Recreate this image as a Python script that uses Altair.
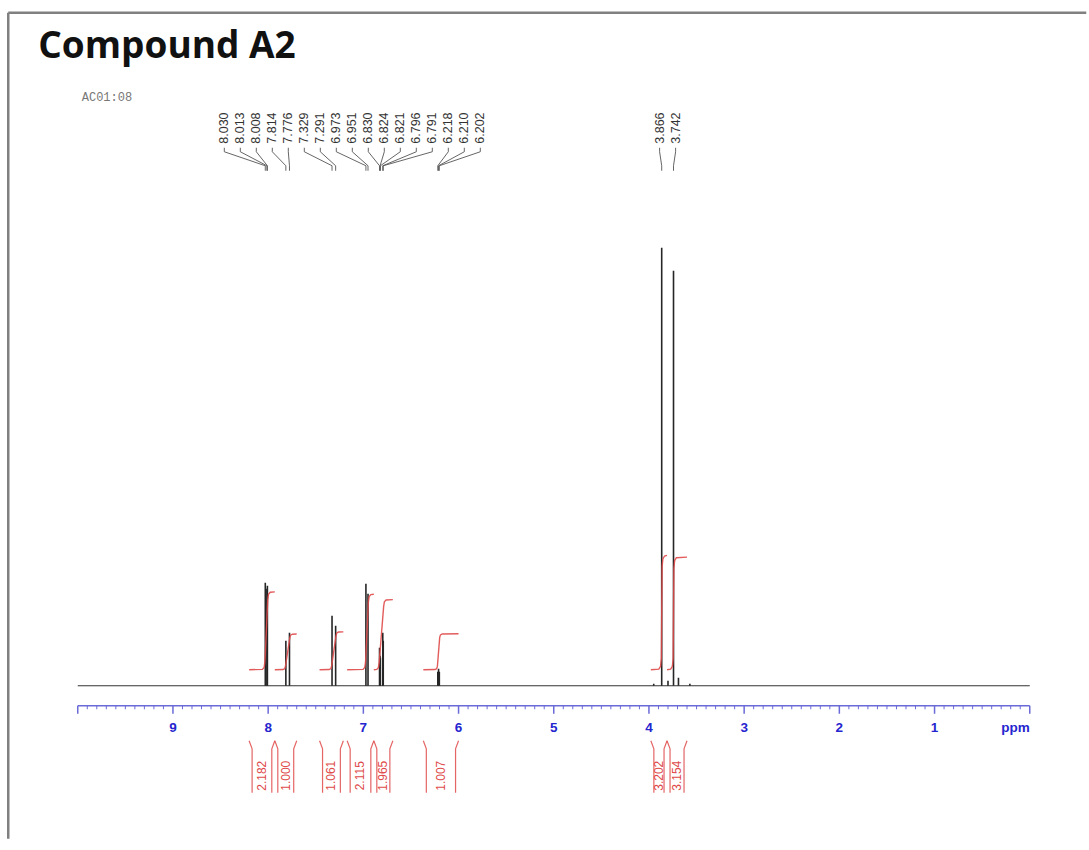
import altair as alt
import pandas as pd
import numpy as np

# ---------------- data ----------------
peak_ppm = [8.030, 8.013, 8.008, 7.814, 7.776, 7.329, 7.291, 6.973, 6.951,
            6.830, 6.824, 6.821, 6.796, 6.791, 6.218, 6.210, 6.202, 3.866, 3.742]
peak_height = [103, 97, 100, 45, 53, 70, 60, 102, 92,
               38, 30, 28, 53, 45, 14, 17, 14, 438, 415]
minor_ppm = [3.95, 3.80, 3.69, 3.57]
minor_height = [2, 5, 8, 2]

integral_value = [2.182, 1.000, 1.061, 2.115, 1.965, 1.007, 3.202, 3.154]
integral_start = [8.20, 7.93, 7.46, 7.17, 6.89, 6.37, 3.98, 3.81]
integral_end = [7.93, 7.70, 7.21, 6.89, 6.69, 6.00, 3.81, 3.60]

major_ticks = [10, 9, 8, 7, 6, 5, 4, 3, 2, 1, 0]
label_ticks = [9, 8, 7, 6, 5, 4, 3, 2, 1]
tick_labels = ["9", "8", "7", "6", "5", "4", "3", "2", "1"]

title_text = "Compound A2"
sample_text = "AC01:08"
unit_text = "ppm"

# ---------------- layout constants ----------------
W = 952
HA, HB, HC = 100, 530, 140
PX_PER_PPM = W / 10.0
LABEL_SPACING = 16 / PX_PER_PPM
INSET = 3 / PX_PER_PPM
INT_BASE = 16
INT_SCALE = 35.7

RED = "#e04a4a"
BLUE_LINE = "#6a6ad8"
BLUE_TEXT = "#2525cf"
GREY = "#808080"

xs = alt.Scale(domain=[10, 0], nice=False, zero=False)
ysA = alt.Scale(domain=[HA, 0], nice=False, zero=False)
ysB = alt.Scale(domain=[-20, HB - 20], nice=False, zero=False)
ysC = alt.Scale(domain=[HC, 0], nice=False, zero=False)

# ---------------- peak label spreading ----------------
groups = [[0]]
for i in range(1, len(peak_ppm)):
    if peak_ppm[i - 1] - peak_ppm[i] > 1.0:
        groups.append([i])
    else:
        groups[-1].append(i)
label_ppm = [0.0] * len(peak_ppm)
for g in groups:
    center = (peak_ppm[g[0]] + peak_ppm[g[-1]]) / 2
    n = len(g)
    for k, i in enumerate(g):
        label_ppm[i] = center + ((n - 1) / 2 - k) * LABEL_SPACING

lab_df = pd.DataFrame({"lx": label_ppm, "text": [f"{p:.3f}" for p in peak_ppm]})
lead_rows = []
for i, (lx, px) in enumerate(zip(label_ppm, peak_ppm)):
    for j, (xx, yy) in enumerate([(lx, 72), (lx, 76), (px, 90), (px, 95)]):
        lead_rows.append({"id": i, "idx": j, "x": xx, "y": yy})
lead_df = pd.DataFrame(lead_rows)

one = pd.DataFrame({"a": [0]})

# ---------------- panel A: title, labels ----------------
title = alt.Chart(pd.DataFrame({"t": [title_text]})).mark_text(
    align="left", baseline="alphabetic", font="Open Sans", fontSize=37,
    fontWeight="bold", color="#111111"
).encode(x=alt.value(-39.5), y=alt.value(-18), text="t:N")

sample = alt.Chart(pd.DataFrame({"t": [sample_text]})).mark_text(
    align="left", baseline="alphabetic", font="Liberation Mono", fontSize=12,
    color="#777777"
).encode(x=alt.value(4), y=alt.value(25), text="t:N")

frame_top = alt.Chart(one).mark_rule(color=GREY, strokeWidth=2.5).encode(
    x=alt.value(-69.5), x2=alt.value(1008.5), y=alt.value(-63))
frame_left = alt.Chart(one).mark_rule(color=GREY, strokeWidth=2.5).encode(
    x=alt.value(-69.5), y=alt.value(-63), y2=alt.value(763))

peak_labels = alt.Chart(lab_df).mark_text(
    angle=270, align="left", baseline="middle", font="Liberation Sans",
    fontSize=12.5, color="#333333"
).encode(x=alt.X("lx:Q", scale=xs, axis=None), y=alt.value(68), text="text:N")

leaders = alt.Chart(lead_df).mark_line(color="#555555", strokeWidth=0.9).encode(
    x=alt.X("x:Q", scale=xs, axis=None),
    y=alt.Y("y:Q", scale=ysA, axis=None),
    detail="id:N", order="idx:Q")

panelA = alt.layer(frame_top, frame_left, title, sample, leaders, peak_labels).properties(
    width=W, height=HA)

# ---------------- panel B: spectrum and integrals ----------------
spec_df = pd.DataFrame({
    "ppm": peak_ppm + minor_ppm,
    "h": peak_height + minor_height,
    "base": [0] * (len(peak_ppm) + len(minor_ppm)),
})
base_df = pd.DataFrame({"x": [10.0], "x2": [0.0], "y": [0.0]})

baseline = alt.Chart(base_df).mark_rule(color="#333333", strokeWidth=1.2).encode(
    x=alt.X("x:Q", scale=xs, axis=None), x2="x2:Q",
    y=alt.Y("y:Q", scale=ysB, axis=None))

peaks = alt.Chart(spec_df).mark_rule(color="#262626", strokeWidth=1.6).encode(
    x=alt.X("ppm:Q", scale=xs, axis=None),
    y=alt.Y("base:Q", scale=ysB, axis=None), y2="h:Q")

int_rows = []
for r, (v, s, e) in enumerate(zip(integral_value, integral_start, integral_end)):
    inside = [p for p in peak_ppm if e <= p <= s]
    hi, lo = max(inside), min(inside)
    pts = [(s, 0.0), (hi + 0.03, 0.005), (hi + 0.012, 0.03), (hi + 0.004, 0.10),
           (lo - 0.004, 0.90), (lo - 0.012, 0.97), (lo - 0.03, 0.995), (e, 1.0)]
    for j, (xx, f) in enumerate(pts):
        int_rows.append({"region": r, "idx": j, "x": xx, "y": INT_BASE + f * v * INT_SCALE})
int_df = pd.DataFrame(int_rows)

integrals = alt.Chart(int_df).mark_line(color=RED, strokeWidth=1.4, opacity=0.9).encode(
    x=alt.X("x:Q", scale=xs, axis=None),
    y=alt.Y("y:Q", scale=ysB, axis=None),
    detail="region:N", order="idx:Q")

panelB = alt.layer(baseline, peaks, integrals).properties(width=W, height=HB)

# ---------------- panel C: axis and integral labels ----------------
axis_df = pd.DataFrame({"x": [10.0], "x2": [0.0]})
axis_line = alt.Chart(axis_df).mark_rule(color=BLUE_LINE, strokeWidth=1.5).encode(
    x=alt.X("x:Q", scale=xs, axis=None), x2="x2:Q", y=alt.value(0))

major_df = pd.DataFrame({"x": major_ticks})
minor_list = [round(t / 10, 1) for t in range(1, 100) if t % 10 != 0]
minor_df = pd.DataFrame({"x": minor_list})

major = alt.Chart(major_df).mark_rule(color=BLUE_LINE, strokeWidth=1.5).encode(
    x=alt.X("x:Q", scale=xs, axis=None), y=alt.value(0), y2=alt.value(8))
minor = alt.Chart(minor_df).mark_rule(color=BLUE_LINE, strokeWidth=1.0).encode(
    x=alt.X("x:Q", scale=xs, axis=None), y=alt.value(0), y2=alt.value(3.5))

tl_df = pd.DataFrame({"x": label_ticks, "t": tick_labels})
tick_text = alt.Chart(tl_df).mark_text(
    font="Liberation Sans", fontSize=13.5, fontWeight="bold", color=BLUE_TEXT,
    baseline="middle", align="center"
).encode(x=alt.X("x:Q", scale=xs, axis=None), y=alt.value(22), text="t:N")

unit = alt.Chart(pd.DataFrame({"x": [0.0], "t": [unit_text]})).mark_text(
    font="Liberation Sans", fontSize=13.5, fontWeight="bold", color=BLUE_TEXT,
    baseline="middle", align="right"
).encode(x=alt.X("x:Q", scale=xs, axis=None), y=alt.value(22), text="t:N")

br_rows = []
eid = 0
for s, e in zip(integral_start, integral_end):
    for edge, d in ((s, -INSET), (e, INSET)):
        for j, (xx, yy) in enumerate([(edge, 35), (edge + d, 43), (edge + d, 87)]):
            br_rows.append({"edge": eid, "idx": j, "x": xx, "y": yy})
        eid += 1
br_df = pd.DataFrame(br_rows)

brackets = alt.Chart(br_df).mark_line(color=RED, strokeWidth=1.2, opacity=0.85).encode(
    x=alt.X("x:Q", scale=xs, axis=None),
    y=alt.Y("y:Q", scale=ysC, axis=None),
    detail="edge:N", order="idx:Q")

il_df = pd.DataFrame({
    "x": [(s + e) / 2 for s, e in zip(integral_start, integral_end)],
    "t": [f"{v:.3f}" for v in integral_value],
})
int_labels = alt.Chart(il_df).mark_text(
    angle=270, align="center", baseline="middle", font="Liberation Sans",
    fontSize=12, color=RED
).encode(x=alt.X("x:Q", scale=xs, axis=None), y=alt.value(70), text="t:N")

panelC = alt.layer(axis_line, minor, major, tick_text, unit, brackets, int_labels).properties(
    width=W, height=HC)

chart = alt.vconcat(panelA, panelB, panelC, spacing=0, bounds="flush").properties(
    padding={"left": 6.75, "top": 10.75, "right": 0, "bottom": 0}
).configure_view(stroke=None)

chart.save("out.html", embed_options={"renderer": "svg", "actions": False})
